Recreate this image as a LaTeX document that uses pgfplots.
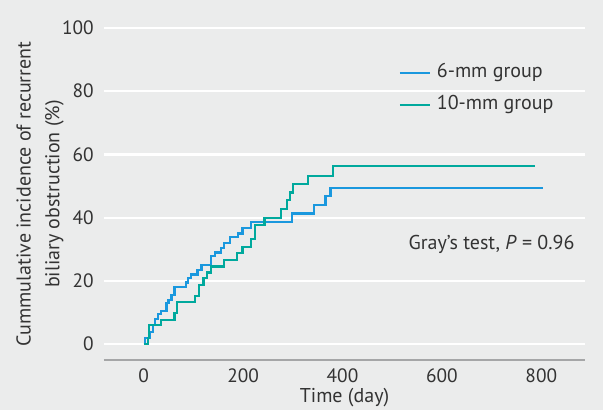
\documentclass[border=0pt]{standalone}
\usepackage{fontspec}
\setmainfont{PT Sans}
\usepackage{pgfplots}
\pgfplotsset{compat=1.18}
\usetikzlibrary{calc,backgrounds}
\definecolor{bgc}{HTML}{EBECEC}
\definecolor{sixmm}{HTML}{1A98DE}
\definecolor{tenmm}{HTML}{00A99D}
\definecolor{axgray}{HTML}{A5A6A7}
\definecolor{txt}{HTML}{333333}

\begin{document}
\begin{tikzpicture}[x=1pt,y=1pt]
\begin{axis}[
  scale only axis,
  width=360.75pt, height=249pt,
  xmin=-80, xmax=888, ymin=-5, ymax=100,
  xtick={0,200,400,600,800},
  ytick={0,20,40,60,80,100},
  major tick length=0pt,
  axis y line*=left,
  axis x line*=bottom,
  y axis line style={draw=none},
  x axis line style={-, draw=axgray, line width=1.6pt},
  ymajorgrids,
  grid style={white, line width=1.6pt},
  font=\fontsize{15}{18}\selectfont,
  /pgf/number format/assume math mode=true,
  tick label style={text=txt, font=\fontsize{14.5}{17}\selectfont},
  xticklabel style={inner sep=0pt, yshift=-6pt},
  yticklabel style={inner sep=0pt, xshift=-7.5pt},
  every axis y label/.style={at={(axis description cs:-0.083,0.5)}, rotate=90, anchor=south, align=center, inner sep=0pt, text=txt, font=\fontsize{15}{21.5}\selectfont},
  every axis x label/.style={at={(axis description cs:0.5,0)}, anchor=north, inner sep=0pt, yshift=-21pt, text=txt, font=\fontsize{15}{18}\selectfont},
  xlabel={Time (day)},
  ylabel={Cummulative incidence of recurrent\\biliary obstruction (\%)},
  legend style={at={(0.612,0.816)}, anchor=west, draw=none, fill=none, inner sep=0pt,
    row sep=11pt, column sep=0pt,
    nodes={inner sep=0pt, text height=10pt, text depth=3pt, text=txt, font=\fontsize{15}{18}\selectfont}},
  legend cell align=left,
  legend image code/.code={\draw[#1] (0pt,0pt) -- (23pt,0pt);},
  /tikz/every odd column/.append style={column sep=4pt},
]
\addplot[const plot, sixmm, line width=1.7pt] coordinates {
  (0,0) (2,1.9) (13,3.8) (18,6.0) (23,8.0) (29,9.5) (35,10.5) (46,13.0)
  (50,14.0) (56,15.5) (62,18.0) (85,19.5) (89,21.0) (95,22.0) (108,23.5)
  (116,25.0) (135,28.0) (143,29.0) (155,30.5) (162,32.0) (174,33.8)
  (189,35.0) (199,36.8) (216,38.7) (298,41.3) (342,44.0) (366,46.8)
  (376,49.3) (804,49.3)
};
\addlegendentry{6-mm group}
\addplot[const plot, tenmm, line width=1.7pt] coordinates {
  (0,0) (8,2.0) (10,6.1) (35,7.6) (62,9.8) (67,13.3) (103,15.3) (111,18.8)
  (120,20.9) (128,22.7) (135,24.6) (161,26.7) (188,28.8) (199,30.7)
  (216,33.2) (224,37.8) (243,39.9) (276,42.7) (288,45.5) (294,48.0)
  (301,50.6) (330,53.3) (381,56.4) (788,56.4)
};
\addlegendentry{10-mm group}
\node[text=txt, font=\fontsize{15}{18}\selectfont] at (axis cs:700,31.5) {Gray’s test, \textit{P} = 0.96};
\coordinate (sw) at (rel axis cs:0,0);
\coordinate (ne) at (rel axis cs:1,1);
\end{axis}
\begin{scope}[on background layer]
\fill[bgc] ($(sw)+(-78pt,-37.5pt)$) rectangle ($(ne)+(13.5pt,21pt)$);
\end{scope}
\pgfresetboundingbox
\useasboundingbox ($(sw)+(-78pt,-37.5pt)$) rectangle ($(ne)+(13.5pt,21pt)$);
\end{tikzpicture}
\end{document}
